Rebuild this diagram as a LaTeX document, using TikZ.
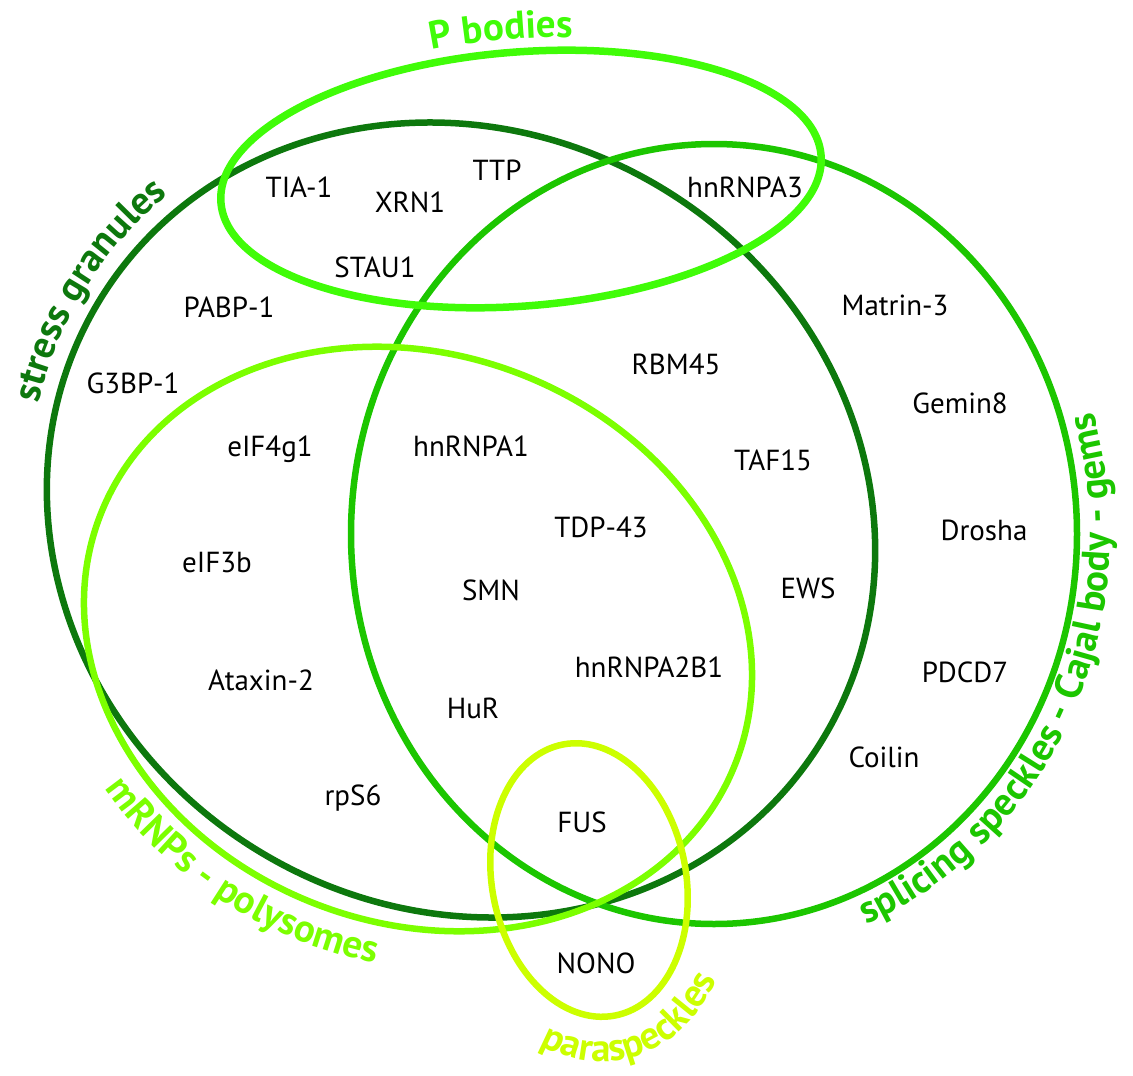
\documentclass[tikz,border=0pt]{standalone}
\usepackage{fontspec}
\setmainfont{PT Sans}
\usetikzlibrary{decorations.text}
\definecolor{sgreen}{RGB}{13,120,13}
\definecolor{spgreen}{RGB}{28,198,0}
\definecolor{pbgreen}{RGB}{64,252,8}
\definecolor{mrgreen}{RGB}{124,255,0}
\definecolor{psgreen}{RGB}{204,255,0}
\newcommand{\protfont}{\fontsize{29}{29}\selectfont}
\newcommand{\labelfont}{\fontsize{39}{39}\selectfont\bfseries}

\begin{document}
\begin{tikzpicture}
	[x=1pt, y=1pt,
	prot/.style	= {anchor=base, inner sep=0pt, font=\protfont},
	ring/.style	= {line width=6.5pt},
	curved/.style	= {decorate, decoration={text along path, text align=center, text={#1}}}]
	
	\useasboundingbox (0,0) rectangle (1133,-1076);
	
	% stress granules
	\begin{scope}[shift={(461,-520)}, rotate=-30.8]
	\draw [ring, sgreen] (0,0) ellipse [x radius=423, y radius=388];
	\path [curved={|\labelfont\color{sgreen}|stress granules}]
		(215:441 and 406) arc [start angle=215, end angle=143, x radius=441, y radius=406];
	\end{scope}
	
	% splicing speckles
	\begin{scope}[shift={(714,-534)}]
	\draw [ring, spgreen] (0,0) ellipse [x radius=363, y radius=390];
	\path [curved={|\labelfont\color{spgreen}|splicing speckles - Cajal body - gems}]
		(258:396 and 423) arc [start angle=258, end angle=410, x radius=396, y radius=423];
	\end{scope}
	
	% mRNPs
	\begin{scope}[shift={(418,-639)}, rotate=-21.4]
	\draw [ring, mrgreen] (0,0) ellipse [x radius=341, y radius=284];
	\path [curved={|\labelfont\color{mrgreen}|mRNPs - polysomes}]
		(195:381 and 324) arc [start angle=195, end angle=316, x radius=381, y radius=324];
	\end{scope}
	
	% P bodies
	\begin{scope}[shift={(521,-179)}, rotate=4.5]
	\draw [ring, pbgreen, line width=7.5pt] (0,0) ellipse [x radius=301, y radius=127];
	\path [curved={|\labelfont\color{pbgreen}|P bodies}]
		(142:314 and 140) arc [start angle=142, end angle=42, x radius=314, y radius=140];
	\end{scope}
	
	% paraspeckles
	\begin{scope}[shift={(589,-880)}, rotate=10.8]
	\draw [ring, psgreen] (0,0) ellipse [x radius=97, y radius=138];
	\path [curved={|\labelfont\color{psgreen}|paraspeckles}]
		(222:143 and 183) arc [start angle=222, end angle=332, x radius=143, y radius=183];
	\end{scope}
	
	\node at (299,-197)	[prot]	(tia)	{TIA-1};
	\node at (410,-212)	[prot]	(xrn)	{XRN1};
	\node at (497,-180)	[prot]	(ttp)	{TTP};
	\node at (375,-277)	[prot]	(stau)	{STAU1};
	\node at (745,-197)	[prot]	(hna3)	{hnRNPA3};
	\node at (229,-317)	[prot]	(pabp)	{PABP-1};
	\node at (895,-315)	[prot]	(matr)	{Matrin-3};
	\node at (133,-393)	[prot]	(g3bp)	{G3BP-1};
	\node at (676,-374)	[prot]	(rbm)	{RBM45};
	\node at (960,-413)	[prot]	(gem)	{Gemin8};
	\node at (270,-456)	[prot]	(eif4)	{eIF4g1};
	\node at (471,-456)	[prot]	(hna1)	{hnRNPA1};
	\node at (773,-470)	[prot]	(taf)	{TAF15};
	\node at (601,-537)	[prot]	(tdp)	{TDP-43};
	\node at (984,-540)	[prot]	(dro)	{Drosha};
	\node at (217,-572)	[prot]	(eif3)	{eIF3b};
	\node at (491,-600)	[prot]	(smn)	{SMN};
	\node at (808,-598)	[prot]	(ews)	{EWS};
	\node at (649,-677)	[prot]	(hna2)	{hnRNPA2B1};
	\node at (965,-682)	[prot]	(pdcd)	{PDCD7};
	\node at (261,-690)	[prot]	(atx)	{Ataxin-2};
	\node at (473,-718)	[prot]	(hur)	{HuR};
	\node at (884,-767)	[prot]	(coil)	{Coilin};
	\node at (353,-805)	[prot]	(rps)	{rpS6};
	\node at (582,-832)	[prot]	(fus)	{FUS};
	\node at (596,-973)	[prot]	(nono)	{NONO};
	
\end{tikzpicture}
\end{document}
